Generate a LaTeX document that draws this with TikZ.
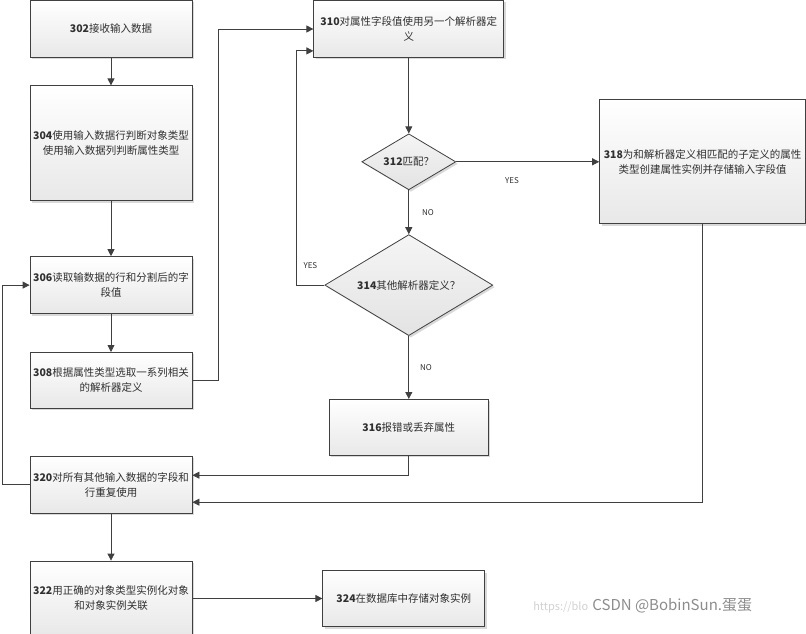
\documentclass[tikz,border=0pt]{standalone}
\usepackage{fontspec}
\newfontfamily\cjk{Noto Sans CJK SC}
\usepackage{xcolor}
\usepackage{tikz}
\usetikzlibrary{arrows.meta}
\usetikzlibrary{positioning}
\usetikzlibrary{shadows}
\usetikzlibrary{shapes.geometric}
\definecolor{lineC}{HTML}{404040}
\definecolor{textC}{HTML}{303030}

\begin{document}
\begin{tikzpicture}
[
	color = lineC,
	proc/.style = {rectangle, draw = lineC, top color = white, bottom color = black!9, minimum width = 162pt, minimum height = 57pt, inner sep = 1pt, align = center, text = textC, font = \cjk\fontsize{10.5}{15}\selectfont, drop shadow = {shadow xshift = 2pt, shadow yshift = -2pt, opacity = 0.3}},
	choice/.style = {diamond, aspect = 1.66, draw = lineC, top color = black!4, bottom color = black!11, inner sep = 0pt, align = center, text = textC, font = \cjk\fontsize{10.5}{15}\selectfont, drop shadow = {shadow xshift = 2pt, shadow yshift = -2pt, opacity = 0.3}},
	lbl/.style = {font = \cjk\fontsize{8}{9}\selectfont, text = textC, inner sep = 1pt},
	node distance = 28pt and 121pt,
	every path/.style = {-{Triangle[length = 7pt, width = 7pt]}, line width = 0.8pt},
]
	\useasboundingbox (0,0) rectangle (806pt,-634pt);

	% left column
	\node (S302) [proc] at (111pt,-29pt) {\textbf{302}接收输入数据};
	\node (S304) [proc, minimum height = 115pt, below = 27.5pt of S302] {\textbf{304}使用输入数据行判断对象类型\\使用输入数据列判断属性类型};
	\node (S306) [proc, below = 55pt of S304] {\textbf{306}读取输数据的行和分割后的字\\段值};
	\node (S308) [proc, minimum height = 56pt, below = 38pt of S306] {\textbf{308}根据属性类型选取一系列相关\\的解析器定义};
	\node (S320) [proc, below = 47pt of S308] {\textbf{320}对所有其他输入数据的字段和\\行重复使用};
	\node (S322) [proc, minimum height = 75pt, below = 47pt of S320] {\textbf{322}用正确的对象类型实例化对象\\和对象实例关联};
	%
	\node (S324) [proc, minimum height = 56pt, right = 130pt of S322] {\textbf{324}在数据库中存储对象实例};

	% right column
	\node (S310) [proc, minimum width = 190pt, right = 121pt of S302] {\textbf{310}对属性字段值使用另一个解析器定\\义};
	\node (Q312) [choice, minimum width = 94pt, minimum height = 56pt, below = 75.5pt of S310] {\textbf{312}匹配？};
	\node (Q314) [choice, minimum width = 168pt, minimum height = 101pt, below = 44pt of Q312] {\textbf{314}其他解析器定义？};
	\node (S316) [proc, minimum width = 159pt, minimum height = 56pt, below = 63pt of Q314] {\textbf{316}报错或丢弃属性};
	%
	\node (S318) [proc, minimum width = 206pt, minimum height = 124pt, right = 143pt of Q312] {\textbf{318}为和解析器定义相匹配的子定义的属性\\类型创建属性实例并存储输入字段值};

	% paths
	\draw (S302) -- (S304);
	\draw (S304) -- (S306);
	\draw (S306) -- (S308);
	\draw (S308.east) -- ++(26pt,0) |- (S310);
	\draw (S310) -- (Q312);
	\draw (Q312) -- node [lbl, right = 12pt] {NO} (Q314);
	\draw (Q312) -- node [lbl, pos = 0.39, below = 14pt] {YES} (S318);
	\draw (Q314.west) -- node [lbl, above = 15pt] {YES} ++(-28pt,0) |- ([yshift = 7pt]S310.south west);
	\draw (Q314) -- node [lbl, right = 10pt] {NO} (S316);
	%
	\draw (S316) |- ([yshift = 9.5pt]S320.east);
	\draw (S318) |- ([yshift = -17.5pt]S320.east);
	\draw (S320.west) -- ++(-27pt,0) |- (S306);
	\draw (S320) -- (S322);
	\draw (S322) -- (S324);

	% watermark
	\node (url) [font = \cjk\fontsize{11}{12}\selectfont, text = black!18, anchor = east] at (592pt,-607pt) {https://blo};
	\node (wm) [font = \cjk\fontsize{15}{16}\selectfont, text = black!45, anchor = west, inner sep = 0pt] at (592pt,-606pt) {CSDN @BobinSun.蛋蛋};

\end{tikzpicture}
\end{document}
